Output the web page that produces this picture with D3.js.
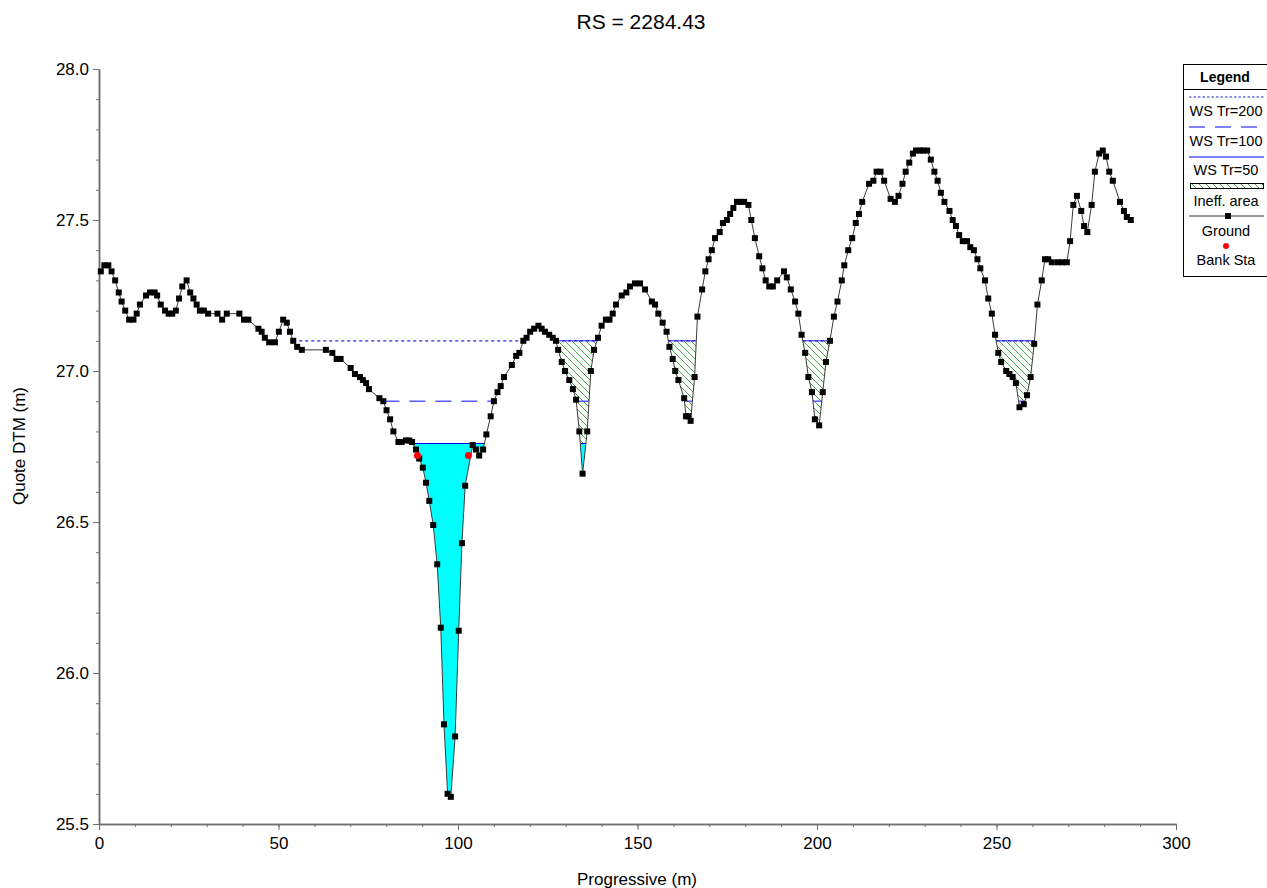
<!DOCTYPE html>
<html>
<head>
<meta charset="utf-8">
<title>RS = 2284.43</title>
<script src="https://d3js.org/d3.v7.min.js"></script>
<style>
    body { margin: 0; background: #ffffff; }
    #chart { display: block; font-family: "Liberation Sans", Arial, sans-serif; }
</style>
</head>
<body>
<svg id="chart" width="1267" height="888"></svg>
<script>
// ground survey points
var stations = [0.5,1.5,2.6,3.5,4.5,5.5,6.3,7.3,8.4,9.6,10.5,11.4,13.1,14.2,15.5,16.2,17.2,18.4,19.4,20.4,
    21.4,22.3,23.2,24.4,25.4,26.3,27.2,28.1,29.2,30.4,33.0,34.3,35.6,39.1,40.4,41.6,44.4,45.3,46.2,47.4,
    49.0,50.1,51.3,52.3,53.2,54.1,55.2,56.5,63.2,65.0,66.2,67.3,70.1,71.3,72.7,73.5,74.4,75.2,78.1,79.2,
    80.1,81.1,82.0,83.4,84.3,85.5,86.4,87.2,88.3,89.2,90.2,91.1,92.0,93.1,94.2,95.2,96.1,97.1,98.0,99.2,
    100.2,101.1,102.0,104.1,105.0,105.9,107.0,107.9,109.1,110.0,111.0,111.9,112.8,115.0,116.2,117.1,118.2,119.1,120.1,121.2,
    122.4,123.3,124.2,125.4,126.4,127.3,127.9,128.9,129.8,131.0,132.0,132.9,133.8,134.7,136.0,137.0,137.9,139.0,140.0,141.2,
    142.2,143.1,144.0,145.6,146.9,147.9,149.3,150.7,152.1,154.0,154.9,155.8,157.0,158.1,158.9,159.8,160.5,161.4,163.0,163.5,
    164.2,164.8,165.9,166.7,168.0,168.9,169.8,170.7,171.6,172.9,173.8,174.9,175.8,176.7,177.7,178.8,179.7,180.9,181.7,182.7,
    183.9,184.8,185.7,186.7,187.7,188.9,190.8,191.6,192.7,193.9,194.8,195.7,196.7,197.6,198.6,199.4,200.6,201.6,202.5,203.6,
    204.7,205.7,206.9,207.6,208.7,209.8,210.8,211.7,212.6,214.5,215.7,216.6,217.7,218.7,220.5,221.7,222.7,223.8,224.7,225.7,
    226.7,227.6,228.7,229.6,230.7,231.7,232.7,233.6,234.5,235.5,236.9,237.8,238.7,239.6,240.6,241.8,242.7,243.7,244.7,245.5,
    246.8,247.7,248.7,249.6,250.5,251.3,252.7,253.6,254.5,255.4,256.4,257.6,258.5,259.5,260.5,261.4,262.6,263.5,264.4,265.4,
    267.1,268.3,269.6,270.5,271.4,272.4,273.6,274.4,275.3,276.5,277.4,278.6,279.6,280.5,281.4,282.4,284.4,285.5,286.3,287.4];
var elevations = [27.33,27.35,27.35,27.33,27.30,27.26,27.23,27.20,27.17,27.17,
    27.19,27.22,27.25,27.26,27.26,27.25,27.22,27.20,27.19,27.19,
    27.20,27.24,27.28,27.30,27.26,27.24,27.22,27.20,27.20,27.19,
    27.19,27.17,27.19,27.19,27.17,27.17,27.14,27.13,27.11,27.095,
    27.095,27.13,27.17,27.16,27.13,27.10,27.08,27.07,27.07,27.06,
    27.04,27.04,27.01,26.99,26.98,26.97,26.96,26.94,26.91,26.90,
    26.87,26.84,26.80,26.765,26.765,26.77,26.77,26.765,26.74,
    26.71,26.68,26.63,26.57,26.49,26.36,26.15,25.83,25.60,25.59,
    25.79,26.14,26.43,26.62,
    26.755,26.74,26.72,26.74,26.79,
    26.85,26.90,26.93,26.95,26.98,27.02,27.05,27.06,
    27.10,27.11,27.13,27.14,27.15,27.14,27.13,27.12,27.11,27.10,
    27.07,27.03,27.00,26.97,26.94,26.905,26.80,26.66,26.80,27.00,
    27.07,27.11,27.15,27.17,27.17,27.19,27.22,27.25,27.26,27.28,
    27.29,27.29,27.27,27.23,27.22,27.19,27.16,27.13,27.08,27.04,
    27.00,26.97,26.91,26.85,26.85,26.835,26.98,27.18,
    27.27,27.33,27.37,27.40,27.44,27.46,27.49,27.50,27.52,27.54,
    27.56,27.56,27.56,27.55,27.50,27.44,27.38,27.34,27.30,27.28,
    27.28,27.30,27.33,27.31,27.27,27.23,27.19,27.12,27.06,26.98,
    26.93,26.84,26.82,26.93,27.03,27.10,27.18,27.23,27.30,27.35,
    27.40,27.44,27.49,27.52,27.56,27.62,27.63,27.66,27.66,27.63,
    27.57,27.56,27.58,27.62,27.66,27.69,27.72,27.73,27.73,27.73,
    27.73,27.70,27.66,27.63,27.59,27.56,27.53,27.50,27.48,27.45,
    27.43,27.43,27.41,27.40,27.37,27.34,27.30,27.24,27.19,27.12,
    27.06,27.03,27.00,26.99,26.98,26.96,26.88,26.89,26.92,26.98,
    27.09,27.22,27.30,27.37,27.37,27.36,27.36,27.36,27.36,27.43,
    27.55,27.58,27.53,27.48,27.46,27.55,27.66,27.72,27.73,27.71,
    27.66,27.63,27.56,27.53,27.51,27.50];

var bankStations = [88.7, 102.9];
var bankElevations = [26.72, 26.72];

var profileNames = ["WS Tr=200", "WS Tr=100", "WS Tr=50"];
var profileWS = [27.10, 26.90, 26.76];

// ineffective flow area: right of this station, up to this elevation
var ineffStart = 119;
var ineffElev = 27.10;

var xTicks = [0, 50, 100, 150, 200, 250, 300];
var yTicks = [25.5, 26.0, 26.5, 27.0, 27.5, 28.0];
var xMinorTicks = [0,10,20,30,40,50,60,70,80,90,100,110,120,130,140,150,160,170,180,190,200,210,220,230,240,250,260,270,280,290,300];
var yMinorTicks = [25.5,25.6,25.7,25.8,25.9,26.0,26.1,26.2,26.3,26.4,26.5,26.6,26.7,26.8,26.9,27.0,27.1,27.2,27.3,27.4,27.5,27.6,27.7,27.8,27.9,28.0];

var legendLabels = ["WS Tr=200", "WS Tr=100", "WS Tr=50", "Ineff. area", "Ground", "Bank Sta"];

var ground = stations.map(function(s, i) { return [s, elevations[i]]; });

var svg = d3.select("#chart");
svg.append("rect").attr("width", 1267).attr("height", 888).attr("fill", "#ffffff");

var x = d3.scaleLinear().domain([0, 300]).range([99, 1176]);
var y = d3.scaleLinear().domain([25.5, 28]).range([824, 69]);

var defs = svg.append("defs");
defs.append("pattern")
    .attr("id", "hatch")
    .attr("patternUnits", "userSpaceOnUse")
    .attr("width", 7)
    .attr("height", 7)
    .append("path")
    .attr("d", "M0,0L7,7M-1,6L1,8M6,-1L8,1")
    .attr("stroke", "#45a845")
    .attr("stroke-width", 1);

// pieces of the section where the ground is below a water level
function wetParts(elev, xLo, xHi) {
    var parts = [], cur = null;
    for (var i = 0; i < ground.length - 1; i++) {
        var a = ground[i], b = ground[i + 1];
        if (a[0] < xLo || b[0] > xHi) continue;
        var wa = a[1] < elev, wb = b[1] < elev;
        if (wa) cur.push(a);
        if (wa !== wb) {
            var t = (elev - a[1]) / (b[1] - a[1]);
            var pt = [a[0] + t * (b[0] - a[0]), elev];
            if (wa) { cur.push(pt); parts.push(cur); cur = null; }
            else { cur = [pt]; }
        }
    }
    return parts;
}

var areaPath = function(pts) {
    return "M" + pts.map(function(p) { return x(p[0]) + "," + y(p[1]); }).join("L") + "Z";
};

// ineffective areas (hatched)
var ineffParts = wetParts(ineffElev, ineffStart, 300);
svg.append("g").selectAll("path")
    .data(ineffParts)
    .enter().append("path")
    .attr("d", areaPath)
    .attr("fill", "url(#hatch)")
    .attr("stroke", "none");

// lowest profile filled
var lowParts = wetParts(profileWS[2], 0, 300);
svg.append("g").selectAll("path")
    .data(lowParts)
    .enter().append("path")
    .attr("d", areaPath)
    .attr("fill", "#00ffff")
    .attr("stroke", "none");

// water surface lines
var wsStyle = [
    { color: "#2626d9", dash: "3,3", width: 1.2 },
    { color: "#5a5aff", dash: "16,10", width: 1.5 },
    { color: "#0000ff", dash: null, width: 1.2 }
];
profileWS.forEach(function(ws, k) {
    var parts = wetParts(ws, 0, 300);
    svg.append("g").selectAll("line")
        .data(parts)
        .enter().append("line")
        .attr("x1", function(p) { return x(p[0][0]); })
        .attr("x2", function(p) { return x(p[p.length - 1][0]); })
        .attr("y1", y(ws))
        .attr("y2", y(ws))
        .attr("stroke", wsStyle[k].color)
        .attr("stroke-width", wsStyle[k].width)
        .attr("stroke-dasharray", wsStyle[k].dash);
});

// top edge of the hatched areas
svg.append("g").selectAll("line")
    .data(ineffParts)
    .enter().append("line")
    .attr("x1", function(p) { return x(p[0][0]); })
    .attr("x2", function(p) { return x(p[p.length - 1][0]); })
    .attr("y1", y(ineffElev))
    .attr("y2", y(ineffElev))
    .attr("stroke", "#1f1fe0")
    .attr("stroke-width", 1);

// axes
var xAxis = svg.append("g").attr("transform", "translate(0,824)")
    .call(d3.axisBottom(x).tickValues(xTicks).tickSize(6).tickPadding(7).tickSizeOuter(0).tickFormat(d3.format("d")));
var xMinor = svg.append("g").attr("transform", "translate(0,824)")
    .call(d3.axisBottom(x).tickValues(xMinorTicks).tickSize(3).tickSizeOuter(0).tickFormat(""));
var yAxis = svg.append("g").attr("transform", "translate(99,0)")
    .call(d3.axisLeft(y).tickValues(yTicks).tickSize(6).tickPadding(4).tickSizeOuter(0).tickFormat(d3.format(".1f")));
var yMinor = svg.append("g").attr("transform", "translate(99,0)")
    .call(d3.axisLeft(y).tickValues(yMinorTicks).tickSize(3).tickSizeOuter(0).tickFormat(""));

[xAxis, xMinor, yAxis, yMinor].forEach(function(g) {
    g.select(".domain").attr("stroke", "#6f6f6f").attr("stroke-width", 1.5);
    g.selectAll(".tick line").attr("stroke", "#6f6f6f");
    g.selectAll(".tick text")
        .attr("fill", "#000")
        .style("font-family", "'Liberation Sans', Arial, sans-serif")
        .style("font-size", "17px");
});

// ground line and points
svg.append("path")
    .datum(ground)
    .attr("d", d3.line().x(function(d) { return x(d[0]); }).y(function(d) { return y(d[1]); }))
    .attr("fill", "none")
    .attr("stroke", "#3a3a3a")
    .attr("stroke-width", 1);

svg.append("g").selectAll("rect")
    .data(ground)
    .enter().append("rect")
    .attr("x", function(d) { return x(d[0]) - 3; })
    .attr("y", function(d) { return y(d[1]) - 3; })
    .attr("width", 6)
    .attr("height", 6)
    .attr("fill", "#000");

svg.append("g").selectAll("circle")
    .data(bankStations)
    .enter().append("circle")
    .attr("cx", function(d) { return x(d); })
    .attr("cy", function(d, i) { return y(bankElevations[i]); })
    .attr("r", 3.5)
    .attr("fill", "#ff0000");

// titles
svg.append("text")
    .attr("x", 641).attr("y", 29)
    .attr("text-anchor", "middle")
    .style("font-size", "21px")
    .text("RS = 2284.43");

svg.append("text")
    .attr("x", 637).attr("y", 885)
    .attr("text-anchor", "middle")
    .style("font-size", "17px")
    .text("Progressive (m)");

svg.append("text")
    .attr("transform", "translate(25,446) rotate(-90)")
    .attr("text-anchor", "middle")
    .style("font-size", "17px")
    .text("Quote DTM (m)");

// legend
var lg = svg.append("g");
lg.append("rect")
    .attr("x", 1183.5).attr("y", 64.5)
    .attr("width", 90).attr("height", 212)
    .attr("fill", "#fff").attr("stroke", "#000");
lg.append("text")
    .attr("x", 1225).attr("y", 82)
    .attr("text-anchor", "middle")
    .style("font-size", "14px").style("font-weight", "bold")
    .text("Legend");
lg.append("line")
    .attr("x1", 1183).attr("x2", 1267).attr("y1", 89.5).attr("y2", 89.5)
    .attr("stroke", "#000");

var rowY = [97, 127, 157, 186, 216, 246];
var textY = [116, 146, 175, 206, 236, 265];
legendLabels.forEach(function(lab, i) {
    lg.append("text")
        .attr("x", 1226).attr("y", textY[i])
        .attr("text-anchor", "middle")
        .style("font-size", "14.5px")
        .text(lab);
    if (i < 3) {
        lg.append("line")
            .attr("x1", 1189).attr("x2", 1264).attr("y1", rowY[i]).attr("y2", rowY[i])
            .attr("stroke", wsStyle[i].color)
            .attr("stroke-width", wsStyle[i].width)
            .attr("stroke-dasharray", i == 0 ? "2.5,2" : wsStyle[i].dash);
    } else if (i == 3) {
        lg.append("rect")
            .attr("x", 1190.5).attr("y", rowY[i] - 2.5)
            .attr("width", 73).attr("height", 5)
            .attr("fill", "url(#hatch)").attr("stroke", "#000");
    } else if (i == 4) {
        lg.append("line")
            .attr("x1", 1189).attr("x2", 1264).attr("y1", rowY[i]).attr("y2", rowY[i])
            .attr("stroke", "#3a3a3a");
        lg.append("rect")
            .attr("x", 1225).attr("y", rowY[i] - 3)
            .attr("width", 6).attr("height", 6)
            .attr("fill", "#000");
    } else {
        lg.append("circle")
            .attr("cx", 1226).attr("cy", rowY[i]).attr("r", 3)
            .attr("fill", "#ff0000");
    }
});
</script>
</body>
</html>
